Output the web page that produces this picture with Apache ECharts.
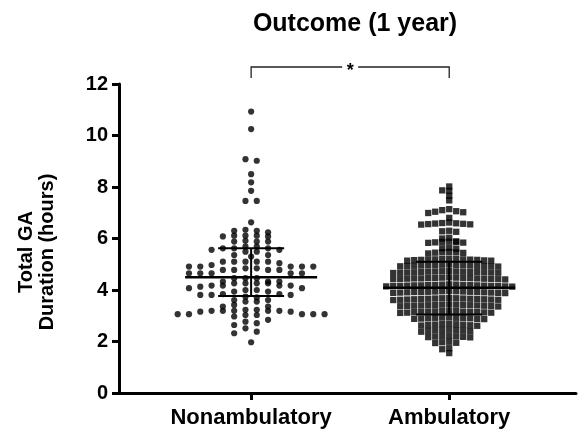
<!DOCTYPE html>
<html>
<head>
<meta charset="utf-8">
<script src="https://cdn.jsdelivr.net/npm/echarts@6/dist/echarts.min.js"></script>
<style>
  html, body { margin: 0; padding: 0; background: #fff; }
  #main { width: 579px; height: 431px; }
</style>
</head>
<body>
<div id="main"></div>
<script>
// groups on the x axis (placed at x = 1 and x = 2)
var groups = ['Nonambulatory', 'Ambulatory'];

// total GA duration (hours), one value per dot
var nonambulatory = [
  10.93, 10.25, 9.08, 9.02, 8.50, 8.18, 7.85, 7.46, 7.46, 6.63,
  6.34, 6.30, 6.30, 6.24,
  6.11, 6.11, 6.11, 6.08, 6.08,
  5.91, 5.88, 5.88, 5.88,
  5.69, 5.69, 5.62, 5.62, 5.62, 5.56, 5.56,
  5.49, 5.49, 5.36, 5.36, 5.30,
  5.10, 5.10, 5.10, 5.10, 5.10, 5.04, 4.97,
  4.91, 4.91, 4.91, 4.91, 4.91, 4.84, 4.84, 4.78, 4.78, 4.78, 4.78,
  4.65, 4.65, 4.65, 4.65, 4.65, 4.46, 4.46, 4.46,
  4.33, 4.33, 4.33, 4.26, 4.26, 4.26, 4.26, 4.17, 4.17, 4.17, 4.17,
  4.13, 4.07, 4.07, 4.00, 4.00,
  3.94, 3.94, 3.84, 3.84, 3.81, 3.81, 3.81,
  3.74, 3.71, 3.61, 3.61, 3.55, 3.55, 3.42,
  3.36, 3.36, 3.23, 3.23, 3.19, 3.19, 3.19, 3.19, 3.19,
  3.16, 3.16, 3.06, 3.06, 3.06, 3.06, 3.06, 3.03, 3.03,
  2.97, 2.84, 2.77, 2.71, 2.64, 2.51, 2.38, 2.32, 1.97
];

var ambulatory = [
  8.02, 7.87, 7.85, 7.66, 7.48,
  7.14, 7.10, 7.06, 7.04, 7.02, 6.99,
  6.80,
  6.62, 6.60, 6.59, 6.58, 6.57, 6.56, 6.55, 6.54,
  6.30, 6.28, 6.26,
  6.03, 6.00,
  5.89, 5.88, 5.87, 5.86, 5.85, 5.84, 5.83,
  5.64, 5.62, 5.60,
  5.48, 5.47, 5.46, 5.45, 5.44, 5.42,
  5.22, 5.21, 5.20, 5.19, 5.19, 5.18, 5.18, 5.17, 5.17, 5.16, 5.15, 5.14, 5.14,
  4.99, 4.98, 4.97, 4.97, 4.96, 4.96, 4.95, 4.95, 4.94, 4.94, 4.93, 4.93, 4.92, 4.92, 4.91,
  4.74, 4.73, 4.72, 4.72, 4.71, 4.71, 4.70, 4.70, 4.70, 4.69, 4.69, 4.68, 4.68, 4.67, 4.67, 4.66,
  4.49, 4.48, 4.48, 4.47, 4.47, 4.46, 4.46, 4.45, 4.45, 4.45, 4.44, 4.44, 4.43, 4.43, 4.42, 4.42, 4.41,
  4.22, 4.21, 4.21, 4.20, 4.20, 4.19, 4.19, 4.18, 4.18, 4.18, 4.17, 4.17, 4.16, 4.16, 4.15, 4.15, 4.14, 4.14, 4.13,
  3.96, 3.95, 3.95, 3.94, 3.94, 3.93, 3.93, 3.92, 3.92, 3.92, 3.91, 3.91, 3.90, 3.90, 3.89, 3.89, 3.88,
  3.69, 3.68, 3.68, 3.67, 3.67, 3.66, 3.66, 3.65, 3.65, 3.64, 3.64, 3.63, 3.63, 3.62, 3.62, 3.61,
  3.44, 3.43, 3.43, 3.42, 3.42, 3.41, 3.41, 3.40, 3.40, 3.39, 3.39, 3.38, 3.38, 3.37, 3.36,
  3.19, 3.18, 3.18, 3.17, 3.16, 3.16, 3.15, 3.15, 3.14, 3.14, 3.13, 3.12, 3.12, 3.11,
  2.94, 2.93, 2.92, 2.92, 2.91, 2.90, 2.90, 2.89, 2.88, 2.88, 2.87,
  2.69, 2.68, 2.67, 2.66, 2.65, 2.64, 2.63, 2.62, 2.61,
  2.46, 2.45, 2.44, 2.43, 2.42, 2.41, 2.40, 2.38,
  2.22, 2.21, 2.20, 2.19, 2.18, 2.17, 2.16,
  1.99, 1.97, 1.95, 1.94,
  1.74, 1.70, 1.55
];

// median with interquartile range, as drawn
var medians = [4.50, 4.09];
var q1 = [3.77, 3.05];
var q3 = [5.62, 5.10];

var yTicks = [0, 2, 4, 6, 8, 10, 12];

var FONT = '"Liberation Sans", Arial, sans-serif';
var gridLeft = 119, gridRight = 3;
var xMin = 0.333, xMax = 2.64;
var pxPerUnit = (579 - gridLeft - gridRight) / (xMax - xMin);

// GraphPad-like scatter: rows of nearby values spread sideways
function swarm(values, center, stepPx, rowH, halfGrid) {
  var sorted = values.slice().sort(function (a, b) { return b - a; });
  var out = [];
  var row = [];
  function flush() {
    var n = row.length;
    row.forEach(function (v, k) {
      var off;
      if (halfGrid) {
        off = n === 1 ? 0 : (k % 2 ? 1 : -1) * (Math.floor(k / 2) + 0.5);
      } else {
        off = (k % 2 ? -1 : 1) * Math.ceil(k / 2);
      }
      out.push([center + off * stepPx / pxPerUnit, v]);
    });
    row = [];
  }
  sorted.forEach(function (v) {
    if (row.length && row[0] - v >= rowH) flush();
    row.push(v);
  });
  flush();
  return out;
}

var myChart = echarts.init(document.getElementById('main'));

var option = {
  animation: false,
  title: {
    text: 'Outcome (1 year)',
    left: 350,
    top: 7,
    textAlign: 'center',
    textStyle: { fontFamily: FONT, fontWeight: 'bold', fontSize: 25, color: '#000' }
  },
  grid: { left: gridLeft, right: gridRight, top: 84, bottom: 38, containLabel: false, outerBoundsMode: 'none' },
  xAxis: {
    type: 'value',
    min: xMin,
    max: xMax,
    splitLine: { show: false },
    axisLine: { lineStyle: { color: '#000', width: 3 } },
    axisTick: { customValues: [1, 2], length: 7, lineStyle: { color: '#000', width: 3 } },
    axisLabel: {
      customValues: [1, 2],
      margin: 14,
      formatter: function (v) { return groups[Math.round(v) - 1]; },
      fontFamily: FONT, fontWeight: 'bold', fontSize: 22, color: '#000'
    }
  },
  yAxis: {
    type: 'value',
    min: 0,
    max: 12,
    interval: 2,
    splitLine: { show: false },
    axisLine: { show: true, lineStyle: { color: '#000', width: 3 } },
    axisTick: { show: true, length: 7, lineStyle: { color: '#000', width: 3 } },
    axisLabel: {
      margin: 11,
      formatter: function (v) { return yTicks.indexOf(v) >= 0 ? String(v) : ''; },
      fontFamily: FONT, fontWeight: 'bold', fontSize: 20, color: '#000'
    }
  },
  graphic: [{
    type: 'text',
    x: 37,
    y: 252,
    rotation: Math.PI / 2,
    style: {
      text: 'Total GA\nDuration (hours)',
      fill: '#000',
      font: 'bold 20px ' + FONT,
      lineHeight: 21,
      align: 'center',
      verticalAlign: 'middle'
    }
  }],
  series: [
    {
      name: groups[0],
      type: 'scatter',
      symbol: 'circle',
      symbolSize: 6.2,
      itemStyle: { color: '#000' },
      data: swarm(nonambulatory, 1, 11.3, 0.19, true)
    },
    {
      name: groups[1],
      type: 'scatter',
      symbol: 'rect',
      symbolSize: 6.3,
      itemStyle: { color: '#000' },
      data: swarm(ambulatory, 2, 7, 0.15, false)
    },
    {
      // median line and interquartile bars
      type: 'custom',
      z: 5,
      data: groups.map(function (g, i) { return [i + 1, medians[i], q1[i], q3[i]]; }),
      renderItem: function (params, api) {
        var m = api.coord([api.value(0), api.value(1)]);
        var lo = api.coord([api.value(0), api.value(2)]);
        var hi = api.coord([api.value(0), api.value(3)]);
        var st = { stroke: '#000', lineWidth: 2 };
        return {
          type: 'group',
          children: [
            { type: 'line', shape: { x1: m[0] - 66, y1: m[1], x2: m[0] + 66, y2: m[1] }, style: { stroke: '#000', lineWidth: 2.5 } },
            { type: 'line', shape: { x1: lo[0], y1: lo[1], x2: hi[0], y2: hi[1] }, style: st },
            { type: 'line', shape: { x1: lo[0] - 33, y1: lo[1], x2: lo[0] + 33, y2: lo[1] }, style: st },
            { type: 'line', shape: { x1: hi[0] - 33, y1: hi[1], x2: hi[0] + 33, y2: hi[1] }, style: st }
          ]
        };
      }
    },
    {
      // significance bracket
      type: 'custom',
      clip: false,
      data: [[1, 2]],
      renderItem: function (params, api) {
        var a = api.coord([api.value(0), 12]);
        var b = api.coord([api.value(1), 12]);
        var y = a[1] - 17;
        var mid = (a[0] + b[0]) / 2;
        var st = { stroke: '#222', lineWidth: 1.3, fill: null };
        return {
          type: 'group',
          children: [
            { type: 'polyline', shape: { points: [[a[0], y + 11], [a[0], y], [mid - 8, y]] }, style: st },
            { type: 'polyline', shape: { points: [[mid + 8, y], [b[0], y], [b[0], y + 11]] }, style: st },
            { type: 'text', x: mid, y: y + 4, style: { text: '*', fill: '#000', font: 'bold 18px ' + FONT, align: 'center', verticalAlign: 'middle' } }
          ]
        };
      }
    }
  ]
};

myChart.setOption(option);
</script>
</body>
</html>
